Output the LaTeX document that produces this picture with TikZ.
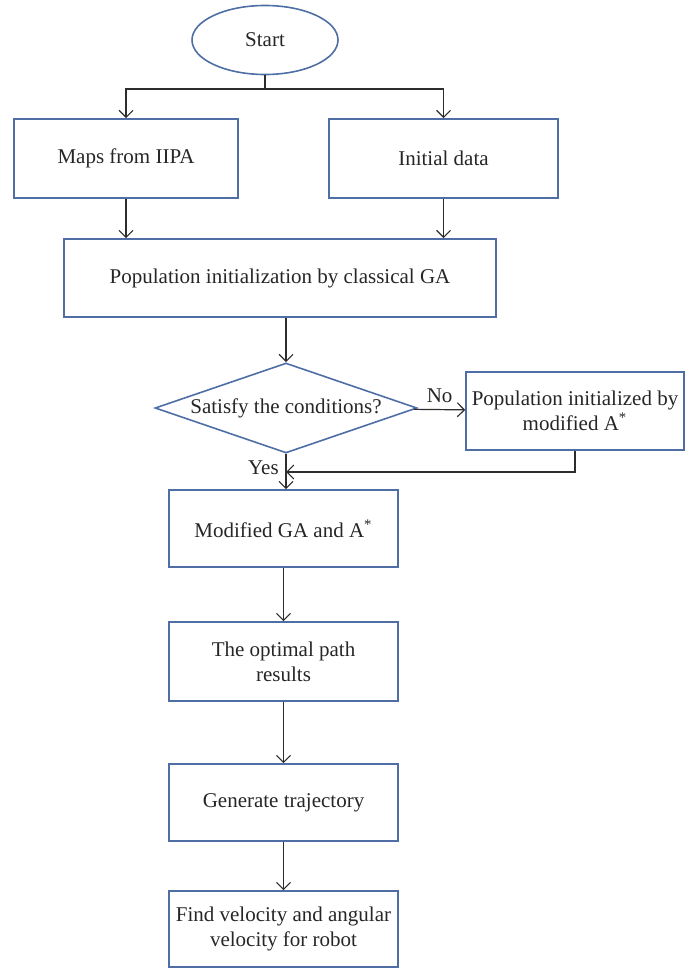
\documentclass[tikz,border=0pt]{standalone}
\usepackage{fontspec}
\setmainfont{Liberation Serif}
\usepackage{xcolor}
\usetikzlibrary{shapes.geometric,arrows.meta}
\definecolor{boxblue}{RGB}{79,110,165}
\definecolor{linegray}{RGB}{45,45,45}

\begin{document}
\begin{tikzpicture}[x=0.5pt,y=-0.5pt,
  font=\fontsize{10.5}{12.5}\selectfont,
  every node/.style={text=black!85},
  blockbox/.style={draw=boxblue, line width=0.8pt, rectangle, inner sep=0pt, align=center},
  flowline/.style={draw=linegray, line width=0.6pt},
  flowarrow/.style={flowline, -{Straight Barb[length=3.5pt,width=7pt]}}]
\useasboundingbox (0,0) rectangle (685,968);

% blocks
\node[draw=boxblue, line width=0.8pt, ellipse, minimum width=73pt, minimum height=34.5pt, inner sep=0pt] (start) at (265,40) {Start};
\node[blockbox, minimum width=112pt, minimum height=39.5pt] (maps) at (126,158.5) {Maps from IIPA};
\node[blockbox, minimum width=114.5pt, minimum height=39.5pt] (init) at (443.5,158.5) {Initial data};
\node[blockbox, minimum width=216pt, minimum height=39pt] (pop) at (280,278) {Population initialization by classical GA};
\node[draw=boxblue, line width=0.8pt, diamond, shape aspect=2.9, minimum width=131pt, minimum height=45pt, inner sep=0pt] (cond) at (286,408) {Satisfy the conditions?};
\node[blockbox, minimum width=109pt, minimum height=39pt] (alt) at (575,411) {Population initialized by\\ modified A\textsuperscript{*}};
\node[blockbox, minimum width=114.5pt, minimum height=38.5pt] (mod) at (283.5,528.5) {Modified GA and A\textsuperscript{*}};
\node[blockbox, minimum width=114.5pt, minimum height=39.5pt] (opt) at (283.5,661.5) {The optimal path\\ results};
\node[blockbox, minimum width=114.5pt, minimum height=38.5pt] (gen) at (283.5,802.5) {Generate trajectory};
\node[blockbox, minimum width=114.5pt, minimum height=38pt] (find) at (283.5,929) {Find velocity and angular\\ velocity for robot};

% connectors
\coordinate (fork) at (265,89);
\coordinate (join) at (286,472);
\draw[flowline] (start) -- (fork);
\draw[flowarrow] (fork) -| (maps);
\draw[flowarrow] (fork) -| (init);
\draw[flowarrow] (maps) -- (maps |- pop.north);
\draw[flowarrow] (init) -- (init |- pop.north);
\draw[flowarrow] (cond.north |- pop.south) -- (cond);
\draw[flowarrow] (cond) -- (alt) node[midway, above] (no) {No};
\draw[flowarrow] (alt) |- (join);
\draw[flowarrow] (cond) -- (cond |- mod.north) node[pos=0.38, left] (yes) {Yes};
\draw[flowarrow] (mod) -- (opt);
\draw[flowarrow] (opt) -- (gen);
\draw[flowarrow] (gen) -- (find);
\end{tikzpicture}
\end{document}
